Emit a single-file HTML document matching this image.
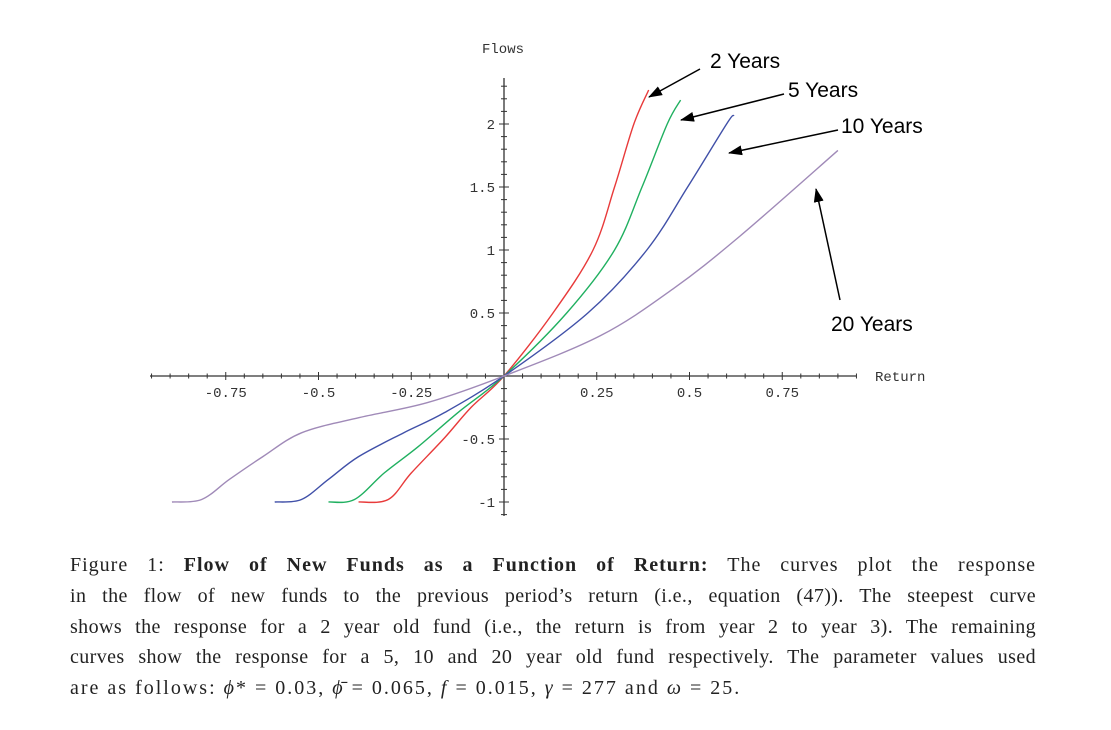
<!DOCTYPE html>
<html><head><meta charset="utf-8"><style>
body{margin:0;background:#fff;width:1111px;height:730px;overflow:hidden;position:relative}
svg{position:absolute;left:0;top:0}
.cap{position:absolute;left:70px;top:550px;width:966px;font-family:"Liberation Serif",serif;font-size:20px;line-height:30.8px;color:#222}
.cap div{text-align:justify;text-align-last:justify;white-space:nowrap;letter-spacing:0.4px}
.cap div.last{text-align-last:left;letter-spacing:2px}
.cap div.first{letter-spacing:1px}
</style></head><body>
<svg width="1111" height="545">
<defs><marker id="ah" markerWidth="14" markerHeight="10" refX="13" refY="5" orient="auto" markerUnits="userSpaceOnUse"><path d="M0,0 L14,5 L0,10 z" fill="#000"/></marker></defs>
<g id="axes"></g><g id="curves"></g>
<g font-family="Liberation Sans,sans-serif" font-size="21" fill="#000">
<text x="710" y="68">2 Years</text>
<text x="788" y="97">5 Years</text>
<text x="841" y="133">10 Years</text>
<text x="831" y="331">20 Years</text>
</g>
<g stroke="#000" stroke-width="1.5">
<line x1="700" y1="69" x2="649" y2="97" marker-end="url(#ah)"/>
<line x1="784" y1="94" x2="681" y2="120" marker-end="url(#ah)"/>
<line x1="838" y1="130" x2="729" y2="153" marker-end="url(#ah)"/>
<line x1="840" y1="300" x2="816" y2="189" marker-end="url(#ah)"/>
</g>
</svg>
<div class="cap">
<div class="first">Figure 1: <b>Flow of New Funds as a Function of Return:</b> The curves plot the response</div>
<div>in the flow of new funds to the previous period’s return (i.e., equation (47)). The steepest curve</div>
<div>shows the response for a 2 year old fund (i.e., the return is from year 2 to year 3). The remaining</div>
<div>curves show the response for a 5, 10 and 20 year old fund respectively. The parameter values used</div>
<div class="last">are as follows: <i>ϕ</i>* = 0.03, <i>ϕ̄</i> = 0.065, <i>f</i> = 0.015, <i>γ</i> = 277 and <i>ω</i> = 25.</div>
</div>
<script>
const xTicks=[-0.75,-0.5,-0.25,0.25,0.5,0.75];
const xTickLabels=["-0.75","-0.5","-0.25","0.25","0.5","0.75"];
const yTicks=[-1,-0.5,0.5,1,1.5,2];
const yTickLabels=["-1","-0.5","0.5","1","1.5","2"];
const seriesNames=["2 Years","5 Years","10 Years","20 Years"];
const seriesColors=["#e83a3a","#20b060","#4050a8","#a08ab8"];
const xs2=[-0.392,-0.312,-0.25,-0.16,-0.089,0,0.132,0.24,0.298,0.35,0.39];
const ys2=[-1,-0.98,-0.77,-0.49,-0.25,0,0.5,1,1.5,2,2.27];
const xs5=[-0.473,-0.403,-0.323,-0.231,-0.124,0,0.169,0.298,0.372,0.44,0.476];
const ys5=[-1,-0.98,-0.77,-0.56,-0.29,0,0.5,1,1.5,2,2.19];
const xs10=[-0.618,-0.546,-0.473,-0.392,-0.27,-0.16,0,0.226,0.385,0.495,0.60,0.62];
const ys10=[-1,-0.98,-0.82,-0.64,-0.45,-0.29,0,0.5,1,1.5,2,2.07];
const xs20=[-0.895,-0.815,-0.74,-0.65,-0.545,-0.39,-0.205,0,0.26,0.455,0.636,0.9];
const ys20=[-1,-0.98,-0.82,-0.64,-0.45,-0.33,-0.21,0,0.32,0.69,1.11,1.79];
const X=v=>504+v*371, Y=v=>376-v*126;
const NS="http://www.w3.org/2000/svg";
const ax=document.getElementById('axes'), cv=document.getElementById('curves');
function mk(p,tag,at){const e=document.createElementNS(NS,tag);for(const k in at)e.setAttribute(k,at[k]);p.appendChild(e);return e;}
const xa=mk(ax,'line',{x1:150,y1:376,x2:856,y2:376,stroke:'#333','stroke-width':1.3});


const ya=mk(ax,'line',{x1:504,y1:78,x2:504,y2:516,stroke:'#333','stroke-width':1.3});


for(let v=-0.95;v<=0.951;v+=0.05){const big=Math.abs(Math.round(v*100)%25)<1;mk(ax,'line',{x1:X(v),x2:X(v),y1:376-(big?4:2.5),y2:376+(big?4:2.5),stroke:'#333','stroke-width':1});}
for(let v=-1.1;v<=2.36;v+=0.1){const big=Math.abs(Math.round(v*10)%5)<1;mk(ax,'line',{x1:504-(big?5:3),x2:504+(big?5:3),y1:Y(v),y2:Y(v),stroke:'#333','stroke-width':1});}
xTicks.forEach((v,i)=>{const t=mk(ax,'text',{x:X(v),y:397,'text-anchor':'middle','font-family':'Liberation Mono,monospace','font-size':14,fill:'#333'});t.textContent=xTickLabels[i];

});
yTicks.forEach((v,i)=>{const t=mk(ax,'text',{x:495,y:Y(v)+5,'text-anchor':'end','font-family':'Liberation Mono,monospace','font-size':14,fill:'#333'});t.textContent=yTickLabels[i];

});
const yt=mk(ax,'text',{x:503,y:53,'text-anchor':'middle','font-family':'Liberation Mono,monospace','font-size':14,fill:'#333'});yt.textContent='Flows';


const xt=mk(ax,'text',{x:875,y:381,'font-family':'Liberation Mono,monospace','font-size':14,fill:'#333'});xt.textContent='Return';


function path(xs,ys){const p=xs.map((x,i)=>[X(x),Y(ys[i])]);let d='M'+p[0][0]+','+p[0][1];
for(let i=0;i<p.length-1;i++){const a=p[Math.max(0,i-1)],b=p[i],c=p[i+1],e=p[Math.min(p.length-1,i+2)];
d+=` C${b[0]+(c[0]-a[0])/6},${b[1]+(c[1]-a[1])/6} ${c[0]-(e[0]-b[0])/6},${c[1]-(e[1]-b[1])/6} ${c[0]},${c[1]}`;}return d;}
const all=[[xs2,ys2],[xs5,ys5],[xs10,ys10],[xs20,ys20]];
all.forEach((s,i)=>{const e=mk(cv,'path',{d:path(s[0],s[1]),fill:'none',stroke:seriesColors[i],'stroke-width':1.4});

});
</script>
</body></html>
